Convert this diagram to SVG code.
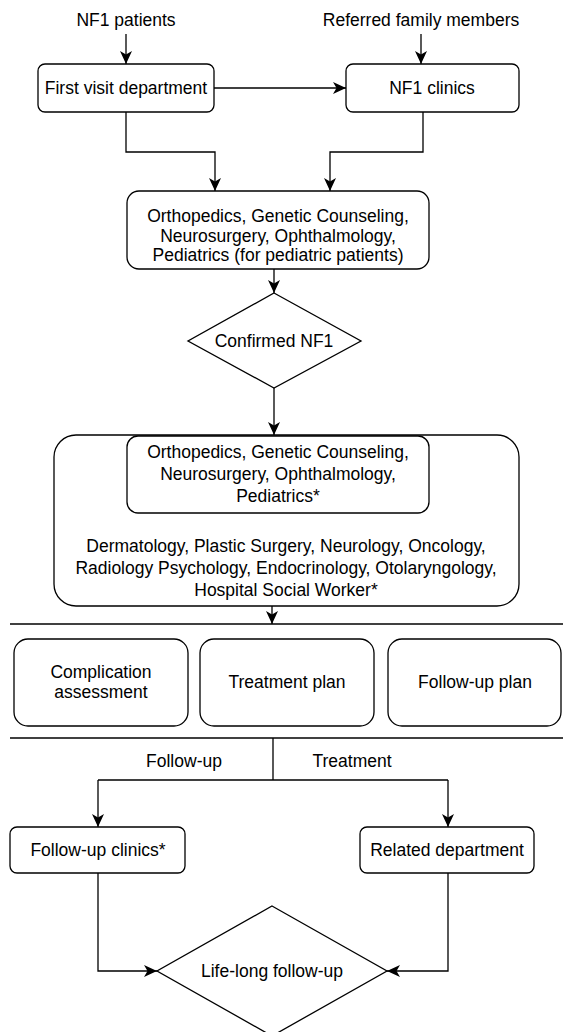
<svg xmlns="http://www.w3.org/2000/svg" width="563" height="1032" viewBox="0 0 563 1032">
<defs>
<marker id="ah" viewBox="0 0 13 12" refX="13" refY="6" markerWidth="13" markerHeight="12" markerUnits="userSpaceOnUse" orient="auto"><path d="M0,0 L13,6 L0,12 L3.5,6 Z" fill="#000"/></marker>
</defs>
<style>
.n{fill:#fff;stroke:#000;stroke-width:1.3}
.c{fill:none;stroke:#000;stroke-width:1.3}
.t{font-family:"Liberation Sans",Arial,sans-serif;font-size:17.5px;fill:#000;text-anchor:middle;dominant-baseline:central}
</style>
<rect width="563" height="1032" fill="#fff"/>
<g id="connectors">
<path class="c" d="M126,34 V64" marker-end="url(#ah)"/>
<path class="c" d="M421,34 V64" marker-end="url(#ah)"/>
<path class="c" d="M214,88 H346" marker-end="url(#ah)"/>
<path class="c" d="M126,112 V152 H215 V191" marker-end="url(#ah)"/>
<path class="c" d="M423,112 V152 H330 V191" marker-end="url(#ah)"/>
<path class="c" d="M274,269 V293" marker-end="url(#ah)"/>
<path class="c" d="M274,388 V435" marker-end="url(#ah)"/>
<path class="c" d="M272,606 V624" marker-end="url(#ah)"/>
<path class="c" d="M10,624 H563"/>
<path class="c" d="M10,738 H563"/>
<path class="c" d="M273,738 V780 M98,780 H448"/>
<path class="c" d="M98,780 V827" marker-end="url(#ah)"/>
<path class="c" d="M448,780 V827" marker-end="url(#ah)"/>
<path class="c" d="M98,873 V971 H157" marker-end="url(#ah)"/>
<path class="c" d="M448,873 V971 H387" marker-end="url(#ah)"/>
</g>
<g id="lbl-nf1"><text class="t" x="126" y="20">NF1 patients</text></g>
<g id="lbl-ref"><text class="t" x="421" y="20">Referred family members</text></g>
<g id="first-visit"><rect class="n" x="38" y="64" width="176" height="48" rx="7"/><text class="t" x="126" y="88">First visit department</text></g>
<g id="nf1-clinics"><rect class="n" x="346" y="64" width="173" height="48" rx="7"/><text class="t" x="432" y="88">NF1 clinics</text></g>
<g id="core"><rect class="n" x="127" y="191" width="302" height="78" rx="12"/>
<text class="t" x="278" y="216">Orthopedics, Genetic Counseling,</text>
<text class="t" x="278" y="236">Neurosurgery, Ophthalmology,</text>
<text class="t" x="278" y="255">Pediatrics (for pediatric patients)</text></g>
<g id="confirmed"><path class="n" d="M274,293 L361,341 L274,388 L188,341 Z"/><text class="t" x="274" y="341">Confirmed NF1</text></g>
<g id="mdt"><rect class="n" x="54" y="435" width="465" height="171" rx="22"/>
<text class="t" x="286" y="546">Dermatology, Plastic Surgery, Neurology, Oncology,</text>
<text class="t" x="286" y="568">Radiology Psychology, Endocrinology, Otolaryngology,</text>
<text class="t" x="286" y="590">Hospital Social Worker*</text></g>
<g id="mdt-core"><rect class="n" x="127" y="436" width="302" height="77" rx="11"/>
<text class="t" x="278" y="452">Orthopedics, Genetic Counseling,</text>
<text class="t" x="278" y="474">Neurosurgery, Ophthalmology,</text>
<text class="t" x="278" y="496">Pediatrics*</text></g>
<g id="complication"><rect class="n" x="14" y="639" width="174" height="87" rx="14"/><text class="t" x="101" y="672">Complication</text><text class="t" x="101" y="692">assessment</text></g>
<g id="treatment-plan"><rect class="n" x="200" y="639" width="174" height="87" rx="14"/><text class="t" x="287" y="682">Treatment plan</text></g>
<g id="followup-plan"><rect class="n" x="388" y="639" width="173" height="87" rx="14"/><text class="t" x="475" y="682">Follow-up plan</text></g>
<g id="lbl-fu"><text class="t" x="184" y="761">Follow-up</text></g>
<g id="lbl-tr"><text class="t" x="352" y="761">Treatment</text></g>
<g id="fu-clinics"><rect class="n" x="10" y="827" width="175" height="46" rx="7"/><text class="t" x="98" y="850">Follow-up clinics*</text></g>
<g id="related"><rect class="n" x="360" y="827" width="174" height="46" rx="7"/><text class="t" x="447" y="850">Related department</text></g>
<g id="lifelong"><path class="n" d="M272,906 L387,971 L272,1036 L157,971 Z"/><text class="t" x="272" y="971">Life-long follow-up</text></g>
</svg>
